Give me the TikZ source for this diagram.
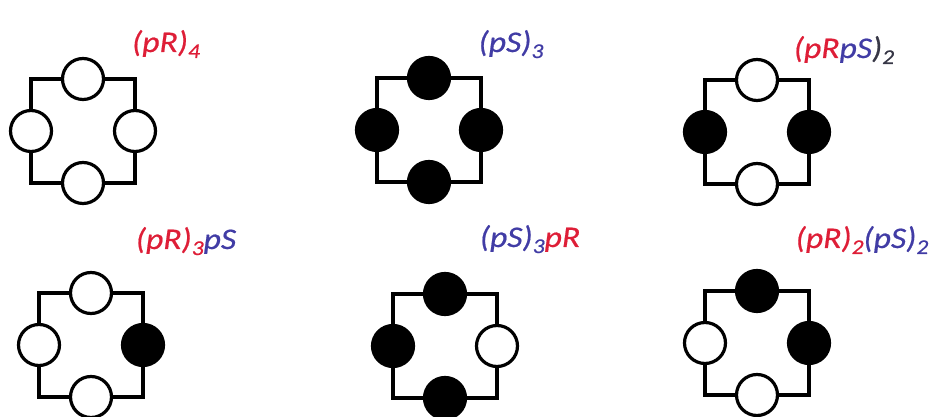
\documentclass[tikz,border=0pt]{standalone}
\usepackage{fontspec}
\setmainfont{Carlito}
\newfontfamily\labfont{Carlito}[FakeStretch=1.12, FakeBold=0.6]
\usetikzlibrary{positioning}

\definecolor{rcol}{RGB}{222,30,55}
\definecolor{scol}{RGB}{65,60,165}
\definecolor{gcol}{RGB}{55,55,70}

\newcommand{\sub}[1]{\raisebox{-6pt}{\fontsize{21}{21}\selectfont #1}}

\tikzset{
  unit/.style={circle, draw=black, line width=3.2pt, minimum size=41pt, inner sep=0pt},
  pR/.style={unit, fill=white},
  pS/.style={unit, fill=black},
  bond/.style={line width=3.2pt},
  lab/.style={font=\labfont\fontsize{30}{32}\selectfont\itshape, inner sep=0pt, anchor=base}
}

% one cyclic tetramer: name, centre, top, right, bottom, left
\newcommand{\tetramer}[6]{%
  \begin{scope}[shift={(#2)}]
    \node[#3] (#1t) at (0,52) {};
    \node[#4] (#1r) at (52,0) {};
    \node[#5] (#1b) at (0,-52) {};
    \node[#6] (#1l) at (-52,0) {};
    \draw[bond] (#1t) -| (#1r);
    \draw[bond] (#1r) |- (#1b);
    \draw[bond] (#1b) -| (#1l);
    \draw[bond] (#1l) |- (#1t);
  \end{scope}}

\begin{document}
\begin{tikzpicture}[x=1pt, y=1pt]
  \useasboundingbox (0,0) rectangle (938,417);

  % top row
  \tetramer{a}{83,286}{pR}{pR}{pR}{pR}
  \tetramer{b}{429,287}{pS}{pS}{pS}{pS}
  \tetramer{c}{757,285}{pR}{pS}{pR}{pS}

  % bottom row
  \tetramer{d}{91,72}{pR}{pS}{pR}{pR}
  \tetramer{e}{445,71}{pS}{pR}{pS}{pS}
  \tetramer{f}{757,74}{pS}{pS}{pR}{pR}

  % labels
  \node[lab] (la) at (166,365) {\textcolor{rcol}{(pR)\sub{4}}};
  \node[lab] (lb) at (511,365) {\textcolor{scol}{(pS)\sub{3}}};
  \node[lab] (lc) at (844,359) {\textcolor{rcol}{(pR}\textcolor{scol}{pS}\textcolor{gcol}{)\sub{2}}};
  \node[lab] (ld) at (186,168) {\textcolor{rcol}{(pR)\sub{3}}\textcolor{scol}{pS}};
  \node[lab] (le) at (530,170) {\textcolor{scol}{(pS)\sub{3}}\textcolor{rcol}{pR}};
  \node[lab] (lf) at (862,169) {\textcolor{rcol}{(pR)\sub{2}}\textcolor{scol}{(pS)\sub{2}}};
\end{tikzpicture}
\end{document}
